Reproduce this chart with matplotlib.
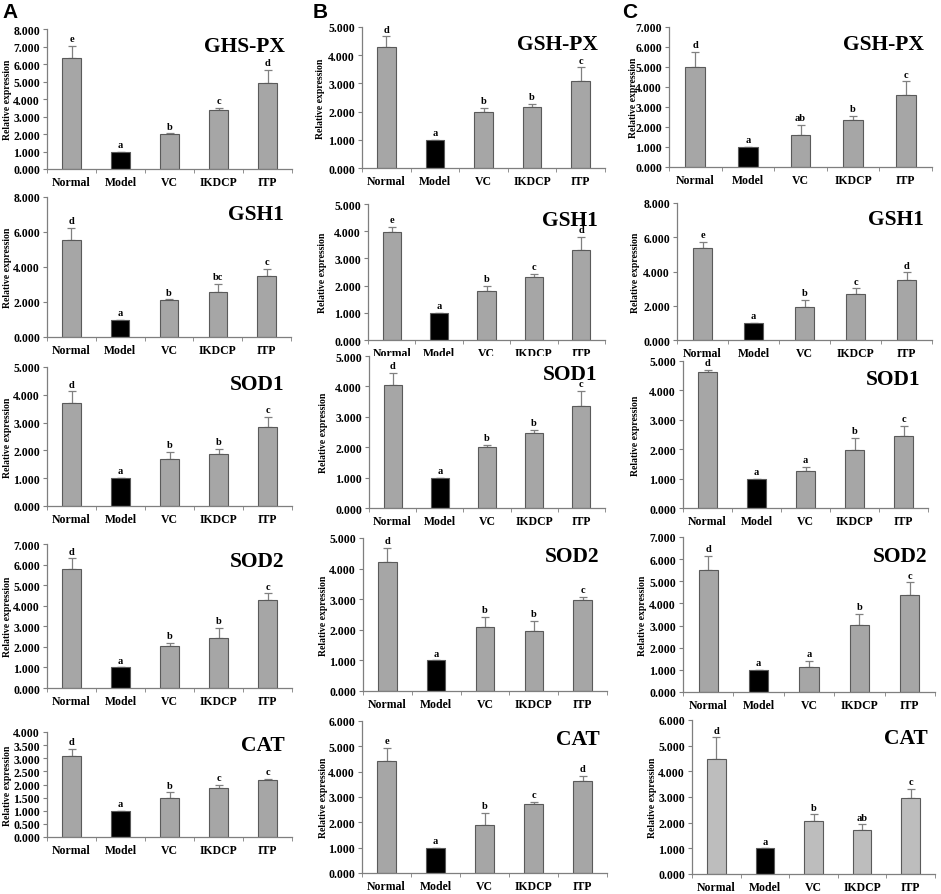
import numpy as np
import matplotlib
matplotlib.use('Agg')
import matplotlib.pyplot as plt
from matplotlib.ticker import FormatStrFormatter, MultipleLocator

plt.rcParams['font.family'] = ['Liberation Serif', 'DejaVu Serif']

groups = ['Normal', 'Model', 'VC', 'IKDCP', 'ITP']

# column A
genes_a = ['GHS-PX', 'GSH1', 'SOD1', 'SOD2', 'CAT']
means_a = [[6.35, 1.0, 2.0, 3.4, 4.9],
           [5.55, 1.0, 2.1, 2.55, 3.5],
           [3.7, 1.0, 1.7, 1.88, 2.83],
           [5.8, 1.0, 2.02, 2.43, 4.3],
           [3.1, 1.0, 1.48, 1.88, 2.17]]
errs_a = [[0.7, 0.0, 0.03, 0.1, 0.75],
          [0.7, 0.0, 0.05, 0.5, 0.4],
          [0.42, 0.0, 0.25, 0.17, 0.38],
          [0.5, 0.0, 0.18, 0.48, 0.3],
          [0.27, 0.0, 0.22, 0.12, 0.03]]
letters_a = [['e', 'a', 'b', 'c', 'd'],
             ['d', 'a', 'b', 'bc', 'c'],
             ['d', 'a', 'b', 'b', 'c'],
             ['d', 'a', 'b', 'b', 'c'],
             ['d', 'a', 'b', 'c', 'c']]
ymax_a = [8, 8, 5, 7, 4]
ystep_a = [1, 2, 1, 1, 0.5]

# column B
genes_b = ['GSH-PX', 'GSH1', 'SOD1', 'SOD2', 'CAT']
means_b = [[4.3, 1.0, 2.0, 2.18, 3.1],
           [3.97, 1.0, 1.8, 2.32, 3.3],
           [4.05, 1.0, 2.0, 2.47, 3.37],
           [4.2, 1.0, 2.08, 1.95, 2.98],
           [4.42, 1.0, 1.9, 2.72, 3.62]]
errs_b = [[0.37, 0.0, 0.13, 0.08, 0.47],
          [0.18, 0.0, 0.18, 0.1, 0.5],
          [0.4, 0.0, 0.07, 0.1, 0.47],
          [0.47, 0.0, 0.33, 0.33, 0.1],
          [0.53, 0.0, 0.48, 0.08, 0.2]]
letters_b = [['d', 'a', 'b', 'b', 'c'],
             ['e', 'a', 'b', 'c', 'd'],
             ['d', 'a', 'b', 'b', 'c'],
             ['d', 'a', 'b', 'b', 'c'],
             ['e', 'a', 'b', 'c', 'd']]
ymax_b = [5, 5, 5, 5, 6]
ystep_b = [1, 1, 1, 1, 1]

# column C
genes_c = ['GSH-PX', 'GSH1', 'SOD1', 'SOD2', 'CAT']
means_c = [[5.0, 1.0, 1.6, 2.35, 3.6],
           [5.35, 1.0, 1.9, 2.67, 3.53],
           [4.62, 1.0, 1.25, 1.97, 2.45],
           [5.5, 1.0, 1.15, 3.02, 4.4],
           [4.47, 1.0, 2.07, 1.73, 2.98]]
errs_c = [[0.77, 0.0, 0.5, 0.22, 0.68],
          [0.4, 0.0, 0.45, 0.35, 0.42],
          [0.08, 0.0, 0.15, 0.42, 0.35],
          [0.65, 0.0, 0.27, 0.5, 0.55],
          [0.85, 0.0, 0.25, 0.2, 0.33]]
letters_c = [['d', 'a', 'ab', 'b', 'c'],
             ['e', 'a', 'b', 'c', 'd'],
             ['d', 'a', 'a', 'b', 'c'],
             ['d', 'a', 'a', 'b', 'c'],
             ['d', 'a', 'b', 'ab', 'c']]
ymax_c = [7, 8, 5, 7, 6]
ystep_c = [1, 2, 1, 1, 1]

# panel boxes in pixels: (left, top, right, bottom), plus ylabel centre x
W, H = 941, 895
boxes_a = [(47, 30, 292, 170), (47, 198, 291, 338), (47, 368, 292, 507),
           (47, 545, 292, 689), (47, 733, 292, 838)]
boxes_b = [(362, 28, 605, 169), (368, 205, 605, 341), (369, 357, 605, 509),
           (363, 539, 607, 692), (362, 722, 607, 874)]
boxes_c = [(669, 28, 932, 168), (677, 204, 932, 341), (683, 362, 928, 509),
           (683, 538, 935, 693), (692, 721, 935, 875)]
ylab_a = [7, 7, 7, 7, 7]
ylab_b = [320, 322, 323, 323, 323]
ylab_c = [633, 635, 635, 642, 652]

fig = plt.figure(figsize=(W / 100, H / 100), dpi=100)

columns = [
    (genes_a, means_a, errs_a, letters_a, ymax_a, ystep_a, boxes_a, ylab_a),
    (genes_b, means_b, errs_b, letters_b, ymax_b, ystep_b, boxes_b, ylab_b),
    (genes_c, means_c, errs_c, letters_c, ymax_c, ystep_c, boxes_c, ylab_c),
]

spine_col = '#7f7f7f'
x = np.arange(len(groups))

for ci, (genes, means, errs, letters, ymaxs, ysteps, boxes, ylabs) in enumerate(columns):
    for ri in range(5):
        l, t, r, b = boxes[ri]
        ax = fig.add_axes([l / W, 1 - b / H, (r - l) / W, (b - t) / H])
        light = (ci == 2 and ri == 4)
        fill = '#bdbdbd' if light else '#a6a6a6'
        colors = [fill, 'black', fill, fill, fill]
        ax.bar(x, means[ri], width=0.38, color=colors, edgecolor='#5a5a5a',
               linewidth=0.8, zorder=2)
        ax.errorbar(x, means[ri], yerr=[np.zeros(5), errs[ri]], fmt='none',
                    ecolor='#808080', elinewidth=0.9, capsize=3, capthick=0.9,
                    zorder=1)
        for xi, m, e, s in zip(x, means[ri], errs[ri], letters[ri]):
            ax.annotate(s, (xi, m + e), xytext=(0, 2), textcoords='offset points',
                        ha='center', va='bottom', fontsize=7.5, fontweight='bold')

        ax.set_xlim(-0.5, 4.5)
        ax.set_ylim(0, ymaxs[ri])
        ax.yaxis.set_major_locator(MultipleLocator(ysteps[ri]))
        ax.yaxis.set_major_formatter(FormatStrFormatter('%.3f'))
        ax.set_xticks(x)
        ax.set_xticklabels(groups, fontsize=8.5, fontweight='bold')
        ax.set_xticks(np.arange(-0.5, 4.6, 1.0), minor=True)
        ax.tick_params(axis='x', which='major', length=0, pad=5)
        ax.tick_params(axis='x', which='minor', length=3, color=spine_col,
                       direction='out')
        ax.tick_params(axis='y', length=3, color=spine_col, pad=2,
                       labelsize=8.5)
        for lab in ax.get_yticklabels():
            lab.set_fontweight('bold')
        for side in ('top', 'right'):
            ax.spines[side].set_visible(False)
        for side in ('left', 'bottom'):
            ax.spines[side].set_color(spine_col)
            ax.spines[side].set_linewidth(0.9)

        ax.set_ylabel('Relative expression', fontsize=7, fontweight='bold')
        # label coords mark the right edge of the rotated label
        ax.yaxis.set_label_coords((ylabs[ri] + 5 - l) / (r - l), 0.5)

        ax.text(0.97, 0.88, genes[ri], transform=ax.transAxes, ha='right',
                va='center', fontsize=15.5, fontweight='bold')

for lx, s in zip([2, 313, 622], ['A', 'B', 'C']):
    fig.text(lx / W, 1 - 3 / H, s, ha='left', va='top', fontsize=15,
             fontweight='bold', family=['Liberation Sans', 'DejaVu Sans'])

fig.savefig('out.png', dpi=100, facecolor='white')
